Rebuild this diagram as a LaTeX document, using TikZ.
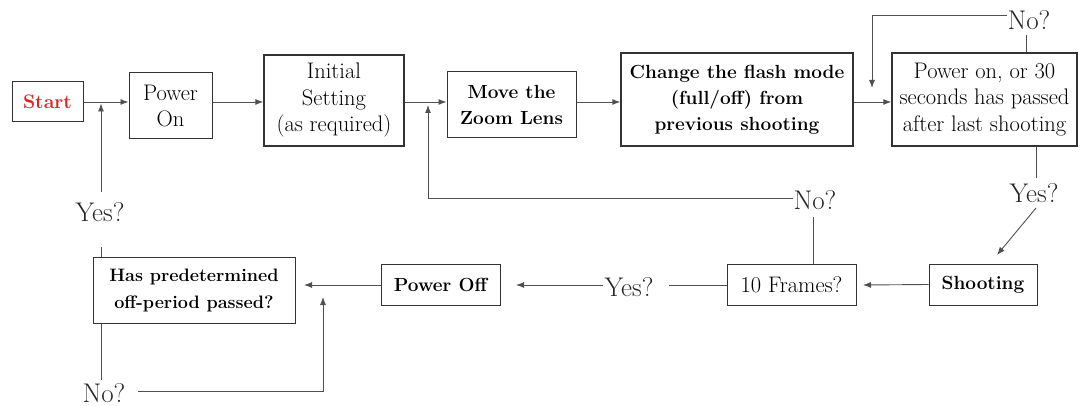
\documentclass[tikz,border=0pt]{standalone}
\usetikzlibrary{arrows.meta,calc}
\definecolor{startred}{HTML}{E02222}
\definecolor{linegray}{HTML}{505050}
\tikzset{
  box/.style={draw=black!80, line width=1pt, rectangle, inner sep=0pt, align=center,
    font=\fontsize{22.5}{26.5}\selectfont},
  bigbox/.style={box, line width=1.4pt},
  boldtext/.style={font=\fontsize{19}{26}\selectfont\bfseries},
  lbl/.style={inner sep=0pt, font=\fontsize{27}{30}\selectfont, text=black!85},
  conn/.style={draw=linegray, line width=0.9pt},
  arr/.style={conn, -{Latex[length=8pt,width=6pt]}},
}
\begin{document}
\begin{tikzpicture}[x=1pt,y=-1pt]
\useasboundingbox (0,0) rectangle (1081,406);
% boxes
\node[box, minimum width=71pt, minimum height=40pt, text=startred, font=\fontsize{19.5}{25.5}\selectfont\bfseries] (start) at (47.5,102) {Start};
\node[box, minimum width=83pt, minimum height=66pt] (pon) at (170.5,106) {Power\\On};
\node[bigbox, minimum width=140pt, minimum height=91pt] (init) at (334,100.5) {Initial\\Setting\\(as required)};
\node[box, minimum width=129pt, minimum height=66pt, boldtext] (move) at (511.5,105) {Move the\\Zoom Lens};
\node[bigbox, minimum width=232pt, minimum height=93pt, boldtext] (flash) at (737,99.5) {Change the flash mode\\(full/off) from\\previous shooting};
\node[bigbox, minimum width=185pt, minimum height=93pt] (pchk) at (984.5,99.5) {Power on, or 30\\seconds has passed\\after last shooting};
\node[box, minimum width=108pt, minimum height=41pt, boldtext] (shoot) at (983,284.5) {Shooting};
\node[box, minimum width=129pt, minimum height=41pt] (frames) at (791.5,284.5) {10 Frames?};
\node[box, minimum width=119pt, minimum height=41pt, boldtext] (poff) at (440.5,284.5) {Power Off};
\node[box, minimum width=202pt, minimum height=66pt, font=\fontsize{18}{27}\selectfont\bfseries] (pred) at (194,290) {Has predetermined\\off-period passed?};
% labels
\node[lbl] (no1) at (1029,20) {No?};
\node[lbl] (yes1) at (1034,193) {Yes?};
\node[lbl] (no2) at (815,200) {No?};
\node[lbl] (yes2) at (629,287) {Yes?};
\node[lbl] (yes3) at (100,212) {Yes?};
\node[lbl] (no3) at (104,393) {No?};
% junction coordinates
\coordinate (mainY) at (0,102);
\coordinate (lowY) at (0,285);
% main row
\draw[arr] (start.east |- mainY) -- (pon.west |- mainY);
\draw[arr] (pon.east |- mainY) -- (init.west |- mainY);
\draw[arr] (init.east |- mainY) -- (move.west |- mainY);
\draw[arr] (move.east |- mainY) -- (flash.west |- mainY);
\draw[arr] (flash.east |- mainY) -- (pchk.west |- mainY);
% No? loop top right
\draw[conn] (pchk.north -| 1026,0) -- (1026,35);
\draw[arr] (no1.west |- 0,15) -- (872,15) -- (872,88);
% Yes? to shooting
\draw[conn] (pchk.south -| 1036,0) -- (1036,178);
\draw[arr] (1036,208) -- (997,255);
% bottom row
\draw[arr] (shoot.west) -- (863,285);
\draw[conn] (frames.north -| 813,0) -- (813,217);
\draw[arr] (no2.west |- 0,198) -- (428,198) -- (428,105);
\draw[conn] (frames.west |- lowY) -- (669,285);
\draw[arr] (603,285) -- (516,285);
\draw[arr] (poff.west |- lowY) -- (304,285);
% left loop
\draw[conn] (pred.north -| 101,0) -- (101,247);
\draw[arr] (101,192) -- (101,103.5);
\draw[conn] (pred.south -| 101,0) -- (101,380);
\draw[arr] (138,391) -- (323,391) -- (323,297);
\end{tikzpicture}
\end{document}
